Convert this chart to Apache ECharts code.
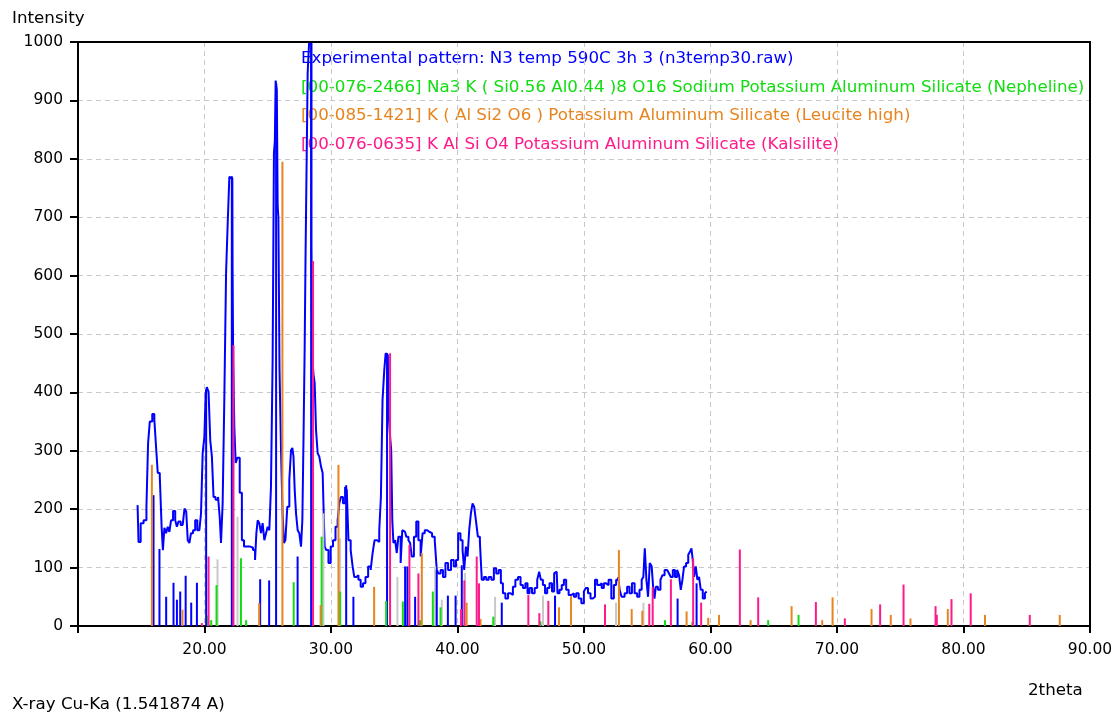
<!DOCTYPE html>
<html>
<head>
<meta charset="utf-8">
<script src="https://cdn.jsdelivr.net/npm/echarts@6/dist/echarts.min.js"></script>
<style>
html,body{margin:0;padding:0;background:#fff;}
#chart{width:1116px;height:717px;}
</style>
</head>
<body>
<div id="chart"></div>
<script>
// ---------- DATA ----------
const xTicks = [10, 20, 30, 40, 50, 60, 70, 80, 90];
const yTicks = [0, 100, 200, 300, 400, 500, 600, 700, 800, 900, 1000];

const legendTexts = [
  'Experimental pattern: N3 temp 590C 3h 3 (n3temp30.raw)',
  '[00-076-2466] Na3 K ( Si0.56 Al0.44 )8 O16 Sodium Potassium Aluminum Silicate (Nepheline)',
  '[00-085-1421] K ( Al Si2 O6 ) Potassium Aluminum Silicate (Leucite high)',
  '[00-076-0635] K Al Si O4 Potassium Aluminum Silicate (Kalsilite)'
];

// experimental pattern [2theta, intensity]
const experimental = [
[14.71,207],[14.86,144],[15.05,176],[15.32,181],[15.50,204],[15.58,313],[15.77,350],[15.97,363],[16.10,353],[16.24,307],
[16.37,262],[16.56,256],[16.66,170],[16.76,130],[16.90,168],[17.03,159],[17.16,170],[17.29,161],[17.42,181],[17.61,197],
[17.76,181],[17.87,170],[18.02,179],[18.21,173],[18.34,170],[18.50,201],[18.61,196],[18.74,147],[18.87,142],[19.00,159],
[19.19,164],[19.34,181],[19.53,164],[19.66,161],[19.79,193],[19.92,296],[20.06,324],[20.13,399],[20.24,409],[20.40,401],
[20.51,318],[20.66,290],[20.77,221],[20.98,216],[21.16,221],[21.24,187],[21.37,142],[21.50,210],[21.64,393],[21.77,604],
[21.90,690],[22.03,769],[22.20,767],[22.24,615],[22.29,455],[22.43,339],[22.50,279],[22.69,288],[22.88,228],[23.03,147],
[23.22,136],[23.48,136],[23.74,134],[23.93,130],[24.06,113],[24.14,159],[24.27,181],[24.40,176],[24.53,159],[24.66,176],
[24.80,147],[24.93,159],[25.06,170],[25.19,164],[25.32,238],[25.45,455],[25.53,810],[25.59,830],[25.66,934],[25.77,918],
[25.80,718],[25.88,700],[25.98,440],[26.12,300],[26.22,193],[26.34,142],[26.45,147],[26.64,204],[26.77,250],[26.91,301],
[26.98,305],[27.09,290],[27.17,233],[27.30,193],[27.43,164],[27.56,159],[27.70,136],[27.77,181],[27.88,318],[27.96,480],
[28.01,627],[28.09,752],[28.22,947],[28.32,1000],[28.41,1000],[28.49,650],[28.57,455],[28.67,430],[28.75,416],[28.88,336],
[29.01,296],[29.14,290],[29.28,273],[29.40,262],[29.46,187],[29.54,136],[29.72,130],[29.88,108],[30.07,136],[30.25,147],
[30.46,170],[30.59,181],[30.72,210],[30.85,221],[31.04,210],[31.19,238],[31.30,233],[31.46,147],[31.65,130],[31.77,102],
[31.91,84],[32.09,87],[32.25,79],[32.44,67],[32.62,73],[32.83,84],[33.04,102],[33.23,96],[33.35,125],[33.54,147],
[33.75,144],[33.88,164],[34.01,221],[34.14,387],[34.28,438],[34.36,467],[34.49,464],[34.59,370],[34.71,330],[34.81,301],
[34.88,181],[34.99,142],[35.15,147],[35.25,125],[35.41,153],[35.60,108],[35.67,164],[35.86,161],[36.04,153],[36.20,147],
[36.31,142],[36.46,119],[36.65,153],[36.83,179],[36.99,147],[37.18,119],[37.30,159],[37.52,164],[37.70,161],[37.89,159],
[38.09,153],[38.31,147],[38.41,96],[38.57,90],[38.76,96],[38.94,84],[39.15,108],[39.36,96],[39.62,113],[39.79,102],
[39.97,113],[40.13,159],[40.34,147],[40.46,130],[40.60,96],[40.73,136],[40.86,119],[40.99,164],[41.13,193],[41.25,210],
[41.39,204],[41.52,181],[41.70,153],[41.84,144],[42.00,79],[42.18,84],[42.36,79],[42.57,84],[42.78,79],[42.97,99],
[43.15,90],[43.36,96],[43.50,73],[43.68,56],[43.89,47],[44.10,56],[44.29,53],[44.47,67],[44.68,79],[44.89,84],
[45.08,70],[45.26,65],[45.47,73],[45.60,56],[45.79,65],[45.99,56],[46.21,65],[46.39,79],[46.52,93],[46.66,79],
[46.84,70],[47.00,56],[47.18,65],[47.37,73],[47.57,59],[47.71,90],[47.84,93],[47.97,56],[48.16,62],[48.32,70],
[48.50,79],[48.68,62],[48.89,53],[49.11,56],[49.29,50],[49.47,56],[49.68,47],[49.90,39],[50.08,59],[50.21,65],
[50.42,56],[50.61,47],[50.79,50],[50.95,79],[51.13,70],[51.32,73],[51.48,65],[51.66,73],[51.84,70],[52.05,79],
[52.27,47],[52.45,70],[52.63,79],[52.79,84],[52.84,62],[53.10,50],[53.32,56],[53.50,67],[53.69,56],[53.89,73],
[54.11,56],[54.29,50],[54.48,62],[54.64,79],[54.74,84],[54.87,133],[55.00,79],[55.13,50],[55.27,108],[55.43,102],
[55.53,62],[55.61,47],[55.74,67],[55.95,62],[56.14,79],[56.26,87],[56.48,96],[56.66,93],[56.79,90],[56.93,84],
[57.11,96],[57.27,84],[57.45,96],[57.58,87],[57.72,62],[57.84,79],[57.98,102],[58.16,108],[58.32,122],[58.43,127],
[58.56,133],[58.63,113],[58.77,84],[58.90,102],[59.03,79],[59.16,84],[59.30,62],[59.48,47],[59.64,56],[59.74,59]
];

// peak sticks [2theta, intensity]
const expPeaks = [
[15.97,224],[16.44,132],[16.97,50],[17.55,74],[17.82,45],[18.08,59],[18.51,86],[18.95,40],[19.40,74],[20.13,405],
[22.16,770],[24.40,80],[25.11,78],[25.66,930],[27.36,119],[28.43,1000],[31.20,241],[31.77,50],[34.43,467],[35.86,102],
[36.04,102],[36.65,50],[38.36,96],[39.24,52],[39.85,52],[40.34,104],[43.50,40],[47.71,52],[57.40,47],[58.90,73]
];
const nepheline = [
[20.27,18],[20.53,10],[20.95,70],[22.88,116],[23.29,10],[27.05,75],[29.26,153],[30.72,59],[34.36,43],[35.68,42],
[37.04,10],[38.05,59],[38.66,32],[42.83,16],[46.56,8],[56.40,10],[58.57,7],[64.56,10],[66.96,19]
];
const leucite = [
[15.84,276],[18.26,28],[24.32,39],[26.16,795],[29.18,36],[30.59,276],[33.41,67],[37.18,125],[40.72,40],[41.82,12],
[48.02,32],[48.97,51],[52.76,130],[53.77,29],[54.61,26],[58.11,25],[59.82,14],[60.67,19],[63.17,10],[66.41,34],
[68.83,10],[69.65,49],[72.73,29],[74.25,19],[75.81,13],[78.76,29],[81.70,19],[87.61,19]
];
const kalsilite = [
[19.79,5],[20.32,119],[22.29,481],[28.58,625],[34.67,467],[36.20,139],[36.91,90],[40.28,29],[40.54,78],[41.52,119],
[41.70,73],[45.60,53],[46.47,22],[47.18,43],[51.66,37],[55.16,38],[55.43,67],[56.87,80],[58.63,116],[59.26,40],
[62.32,131],[63.77,49],[68.33,41],[70.62,13],[73.41,37],[75.26,71],[77.79,34],[77.89,19],[79.05,46],[80.57,56],[85.24,19]
];
const otherPhase = [
[21.03,114],[22.61,187],[29.40,193],[30.72,150],[35.25,84],[38.23,102],[38.76,45],[40.60,91],[42.97,50],[46.76,52],
[52.53,40],[54.70,40]
];

// ---------- STYLE ----------
const C_BLUE = '#0000ff', C_GREEN = '#10dc10', C_ORANGE = '#e8841e', C_PINK = '#ff1a8c', C_GRAY = '#c8c8c8';
const FONT = 'DejaVu Sans';
const TXT = '16.7px "' + FONT + '"';

function stickSeries(name, data, color, z) {
  return {
    name: name, type: 'custom', data: data, z: z,
    encode: { x: 0, y: 1 },
    renderItem: function (params, api) {
      const p0 = api.coord([api.value(0), 0]);
      const p1 = api.coord([api.value(0), api.value(1)]);
      return { type: 'line', shape: { x1: p0[0], y1: p0[1], x2: p1[0], y2: p1[1] },
               style: { stroke: color, lineWidth: 2 } };
    }
  };
}

const chart = echarts.init(document.getElementById('chart'), null, { renderer: 'canvas' });
const legendColors = [C_BLUE, C_GREEN, C_ORANGE, C_PINK];
const graphics = legendTexts.map((t, i) => ({
  type: 'text', left: 301, top: 50 + i * 28.8, z: 0,
  style: { text: t, fill: legendColors[i], font: TXT }
}));
graphics.push({ type: 'text', left: 12, top: 10, style: { text: 'Intensity', fill: '#000', font: TXT } });
graphics.push({ type: 'text', left: 1028, top: 682, style: { text: '2theta', fill: '#000', font: TXT } });
graphics.push({ type: 'text', left: 12, top: 696, style: { text: 'X-ray Cu-Ka (1.541874 A)', fill: '#000', font: TXT } });

const splitStyle = { show: true, lineStyle: { color: '#c8c8c8', type: [5, 4], width: 1 } };
const frameAxis = { show: true, onZero: false, lineStyle: { color: '#000', width: 2 } };

chart.setOption({
  animation: false,
  backgroundColor: '#fff',
  graphic: graphics,
  grid: { left: 78, right: 26, top: 42, bottom: 91 },
  xAxis: [{
    type: 'value', min: xTicks[0], max: xTicks[xTicks.length - 1], interval: 10,
    axisLine: { show: true, onZero: false, lineStyle: { color: '#000', width: 2 } },
    axisTick: { show: true, length: 7, lineStyle: { color: '#000', width: 2 } },
    axisLabel: { margin: 16, color: '#000', fontFamily: FONT, fontSize: 15.5,
      formatter: v => (v === xTicks[0] ? '' : v.toFixed(2)) },
    splitLine: splitStyle, z: 1
  }, {
    type: 'value', position: 'top', min: xTicks[0], max: xTicks[xTicks.length - 1], interval: 10,
    axisLine: frameAxis, axisTick: { show: false }, axisLabel: { show: false }, splitLine: { show: false }, z: 6
  }],
  yAxis: [{
    type: 'value', min: yTicks[0], max: yTicks[yTicks.length - 1], interval: 100,
    axisLine: { show: true, onZero: false, lineStyle: { color: '#000', width: 2 } },
    axisTick: { show: true, length: 8, lineStyle: { color: '#000', width: 2 } },
    axisLabel: { margin: 15, color: '#000', fontFamily: FONT, fontSize: 15.5, formatter: v => String(v) },
    splitLine: splitStyle, z: 1
  }, {
    type: 'value', position: 'right', min: yTicks[0], max: yTicks[yTicks.length - 1], interval: 100,
    axisLine: frameAxis, axisTick: { show: false }, axisLabel: { show: false }, splitLine: { show: false }, z: 6
  }],
  series: [
    { name: 'Experimental', type: 'line', data: experimental, showSymbol: false, z: 3, step: 'middle',
      lineStyle: { color: C_BLUE, width: 2 }, itemStyle: { color: C_BLUE } },
    stickSeries('Other', otherPhase, C_GRAY, 4),
    stickSeries('Peaks', expPeaks, C_BLUE, 4),
    stickSeries('Nepheline', nepheline, C_GREEN, 5),
    stickSeries('Leucite high', leucite, C_ORANGE, 5),
    stickSeries('Kalsilite', kalsilite, C_PINK, 5)
  ]
});
</script>
</body>
</html>
